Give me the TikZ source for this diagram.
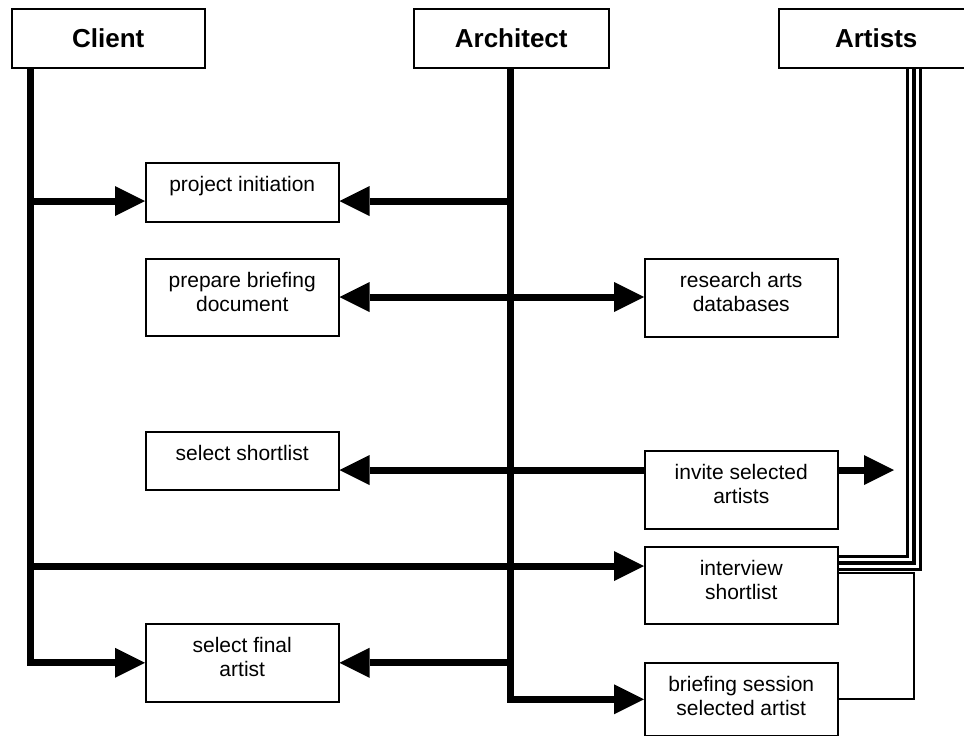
\documentclass[tikz,border=0pt]{standalone}
\usepackage{fontspec}
\setmainfont{Liberation Sans}
\usetikzlibrary{arrows.meta,calc}

% Text of a process box: fixed width and height, first baseline 28.5pt below the top
\newcommand\stagetext[2]{\parbox[t][#1pt][t]{193pt}{\centering\fontsize{21pt}{24pt}\selectfont\rule{0pt}{28.5pt}#2}}

\begin{document}
\begin{tikzpicture}[x=1pt,y=-1pt,
  bigtip/.tip={Triangle[length=30pt,width=30pt,line width=0pt]},
  role/.style={draw, line width=1.5pt, minimum width=195pt, minimum height=59pt,
    inner sep=0pt, anchor=north west, font=\fontsize{26pt}{30pt}\selectfont\bfseries},
  stage/.style={draw, line width=1.5pt, inner sep=0pt, anchor=north west},
  flow/.style={line width=7pt, -bigtip},
  flowboth/.style={line width=7pt, bigtip-bigtip},
  thinlink/.style={line width=2pt}]

\fill[white] (0,0) rectangle (964,736);
\useasboundingbox (0,0) rectangle (964,736);

% roles
\node[role, minimum width=193pt] (client) at (11,8) {Client};
\node[role] (architect) at (413,8) {Architect};
\node[role] (artists) at (778,8) {Artists};

% process steps
\node[stage] (init) at (145,162) {\stagetext{59}{project initiation}};
\node[stage] (brief) at (145,258) {\stagetext{77}{prepare briefing\\document}};
\node[stage] (research) at (644,258) {\stagetext{78}{research arts\\databases}};
\node[stage] (shortlist) at (145,431) {\stagetext{58}{select shortlist}};
\node[stage] (invite) at (644,450) {\stagetext{78}{invite selected\\artists}};
\node[stage] (interview) at (644,546) {\stagetext{77}{interview\\shortlist}};
\node[stage] (final) at (145,623) {\stagetext{78}{select final\\artist}};
\node[stage] (session) at (644,662) {\stagetext{73}{briefing session\\selected artist}};

% lifeline tops and rows
\coordinate (cl) at ($(client.south west)+(19.5,0)$);
\coordinate (al) at ($(architect.south west)+(97.5,0)$);
\coordinate (ar) at ($(artists.south west)+(135.5,0)$);
\coordinate (rInit) at (0,201);
\coordinate (rBrief) at (0,297);
\coordinate (rShort) at (0,470);
\coordinate (rInter) at (0,566);
\coordinate (artin) at (894,470);

% client lifeline and its messages
\draw[flow] (cl) |- (final.west);
\draw[flow] (cl |- rInit) -- (init.west |- rInit);
\draw[flow] (cl |- rInter) -- (interview.west |- rInter);

% architect lifeline and its messages
\draw[flow] (al) |- (session.west);
\draw[flow] (al |- rInit) -- (init.east |- rInit);
\draw[flowboth] (brief.east |- rBrief) -- (research.west |- rBrief);
\draw[flow] (al |- final.east) -- (final.east);

% invitations
\draw[flow] (invite.west |- rShort) -- (shortlist.east |- rShort);
\draw[flow] (invite.east |- rShort) -- (artin);

% artists lifeline: triple line into the interview
\coordinate (tk) at (ar |- 0,563);
\draw[line width=3pt, double distance=10pt] (ar) -- (tk) -- (interview.east |- tk);
\draw[line width=4pt] (ar) -- (tk) -- (interview.east |- tk);

% thin link from the briefing session back up
\coordinate (tn) at (ar |- 0,573);
\draw[thinlink] (session.east) -| (tn) -- (interview.east |- tn);
\end{tikzpicture}
\end{document}
